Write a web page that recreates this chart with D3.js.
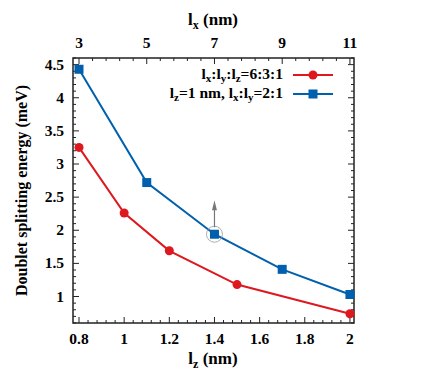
<!DOCTYPE html>
<html>
<head>
<meta charset="utf-8">
<script src="https://cdn.jsdelivr.net/npm/d3@7"></script>
<style>
  body { margin: 0; background: #fff; }
</style>
</head>
<body>
<svg id="chart" width="436" height="382" font-family="'Liberation Serif', 'Times New Roman', serif" font-weight="bold"></svg>
<script>
const width = 436;
const height = 382;

// serija 1: lx:ly:lz = 6:3:1 (po lz)
const lzRed = [0.8, 1.0, 1.2, 1.5, 2.0];
const eRed = [3.25, 2.26, 1.69, 1.18, 0.74];

// serija 2: lz = 1 nm, lx:ly = 2:1 (po lx)
const lxBlue = [3, 5, 7, 9, 11];
const eBlue = [4.43, 2.72, 1.94, 1.41, 1.03];

const bottomTicks = [0.8, 1, 1.2, 1.4, 1.6, 1.8, 2];
const topTicks = [3, 5, 7, 9, 11];
const yTicks = [1, 1.5, 2, 2.5, 3, 3.5, 4, 4.5];

const pL = 73, pR = 354, pT = 58, pB = 323;
const tickFont = 15.5;

const svg = d3.select("#chart");

const x = d3.scaleLinear().domain([0.7734, 2.018]).range([pL, pR]);
// lx = 3 + (lz - 0.8) * 20/3
const xTop = d3.scaleLinear()
    .domain([3 + (0.7734 - 0.8) * 20 / 3, 3 + (2.018 - 0.8) * 20 / 3])
    .range([pL, pR]);
const y = d3.scaleLinear().domain([0.6, 4.6]).range([pB, pT]);

const red = "#dd181f";
const blue = "#0060ad";

// minor ticks
const minorBottom = d3.range(0.8, 2.0001, 0.04);
const minorTop = d3.range(3, 11.0001, 0.4);
const minorY = d3.range(0.6, 4.6001, 0.1);

const ticks = svg.append("g").attr("stroke", "#222").attr("stroke-width", 1);
minorBottom.forEach(v => {
    const isMajor = bottomTicks.some(t => Math.abs(t - v) < 1e-6);
    const len = isMajor ? 6 : 3;
    ticks.append("line").attr("x1", x(v)).attr("x2", x(v)).attr("y1", pB).attr("y2", pB - len);
});
minorTop.forEach(v => {
    const isMajor = topTicks.some(t => Math.abs(t - v) < 1e-6);
    const len = isMajor ? 6 : 3;
    ticks.append("line").attr("x1", xTop(v)).attr("x2", xTop(v)).attr("y1", pT).attr("y2", pT + len);
});
minorY.forEach(v => {
    const isMajor = yTicks.some(t => Math.abs(t - v) < 1e-6);
    const len = isMajor ? 6 : 3;
    ticks.append("line").attr("x1", pL).attr("x2", pL + len).attr("y1", y(v)).attr("y2", y(v));
    ticks.append("line").attr("x1", pR).attr("x2", pR - len).attr("y1", y(v)).attr("y2", y(v));
});

// okvir
svg.append("rect")
    .attr("x", pL).attr("y", pT)
    .attr("width", pR - pL).attr("height", pB - pT)
    .attr("fill", "none").attr("stroke", "#222").attr("stroke-width", 1.5);

// oznake osi
svg.append("g").selectAll("text").data(bottomTicks).enter().append("text")
    .attr("x", d => x(d)).attr("y", 344)
    .attr("text-anchor", "middle").attr("font-size", tickFont)
    .text(d => d);
svg.append("g").selectAll("text").data(topTicks).enter().append("text")
    .attr("x", d => xTop(d)).attr("y", 48)
    .attr("text-anchor", "middle").attr("font-size", tickFont)
    .text(d => d);
svg.append("g").selectAll("text").data(yTicks).enter().append("text")
    .attr("x", 64).attr("y", d => y(d) + 5)
    .attr("text-anchor", "end").attr("font-size", tickFont)
    .text(d => d);

// naslovi osi
function subLabel(sel, main, sub, rest) {
    sel.append("tspan").text(main);
    sel.append("tspan").attr("font-size", 12).attr("dy", 4).text(sub);
    sel.append("tspan").attr("dy", -4).text(rest);
}
const tTop = svg.append("text").attr("x", 213).attr("y", 25)
    .attr("text-anchor", "middle").attr("font-size", 17);
subLabel(tTop, "l", "x", " (nm)");
const tBot = svg.append("text").attr("x", 213).attr("y", 364)
    .attr("text-anchor", "middle").attr("font-size", 17);
subLabel(tBot, "l", "z", " (nm)");
svg.append("text")
    .attr("transform", `translate(27,${(pT + pB) / 2}) rotate(-90)`)
    .attr("text-anchor", "middle").attr("font-size", 16)
    .text("Doublet splitting energy (meV)");

// linije
const lineRed = d3.line().x((d, i) => x(lzRed[i])).y(d => y(d));
const lineBlue = d3.line().x((d, i) => xTop(lxBlue[i])).y(d => y(d));

svg.append("path").datum(eRed).attr("d", lineRed)
    .attr("fill", "none").attr("stroke", red).attr("stroke-width", 2);
svg.append("path").datum(eBlue).attr("d", lineBlue)
    .attr("fill", "none").attr("stroke", blue).attr("stroke-width", 2);

svg.append("g").selectAll("circle").data(eRed).enter().append("circle")
    .attr("cx", (d, i) => x(lzRed[i])).attr("cy", d => y(d))
    .attr("r", 4.5).attr("fill", red);
svg.append("g").selectAll("rect").data(eBlue).enter().append("rect")
    .attr("x", (d, i) => xTop(lxBlue[i]) - 4.5).attr("y", d => y(d) - 4.5)
    .attr("width", 9).attr("height", 9).attr("fill", blue);

// strelica i krug oko točke lx = 7
const hx = xTop(lxBlue[2]), hy = y(eBlue[2]);
svg.append("circle").attr("cx", hx).attr("cy", hy).attr("r", 8)
    .attr("fill", "none").attr("stroke", "#999").attr("stroke-width", 0.8);
svg.append("line").attr("x1", hx).attr("x2", hx).attr("y1", hy - 7).attr("y2", hy - 28)
    .attr("stroke", "#777").attr("stroke-width", 1.2);
svg.append("path")
    .attr("d", `M${hx},${hy - 34} L${hx - 2.5},${hy - 24} L${hx + 2.5},${hy - 24} Z`)
    .attr("fill", "#777");

// legenda
const legend = [
    { parts: [["l", ""], ["x", "s"], [":l", ""], ["y", "s"], [":l", ""], ["z", "s"], ["=6:3:1", ""]], color: red, shape: "circle", y: 79 },
    { parts: [["l", ""], ["z", "s"], ["=1 nm, l", ""], ["x", "s"], [":l", ""], ["y", "s"], ["=2:1", ""]], color: blue, shape: "rect", y: 98 }
];
legend.forEach(l => {
    const t = svg.append("text").attr("x", 283).attr("y", l.y)
        .attr("text-anchor", "end").attr("font-size", 15.5);
    let shift = 0;
    l.parts.forEach(p => {
        const isSub = p[1] === "s";
        const dy = isSub ? 3 - shift : -shift;
        shift = isSub ? 3 : 0;
        const ts = t.append("tspan").attr("dy", dy).text(p[0]);
        if (isSub) ts.attr("font-size", 11);
    });
    const ly = l.y - 4;
    svg.append("line").attr("x1", 293).attr("x2", 333).attr("y1", ly).attr("y2", ly)
        .attr("stroke", l.color).attr("stroke-width", 2);
    if (l.shape === "circle") {
        svg.append("circle").attr("cx", 313).attr("cy", ly).attr("r", 4.5).attr("fill", l.color);
    } else {
        svg.append("rect").attr("x", 308.5).attr("y", ly - 4.5).attr("width", 9).attr("height", 9).attr("fill", l.color);
    }
});
</script>
</body>
</html>
